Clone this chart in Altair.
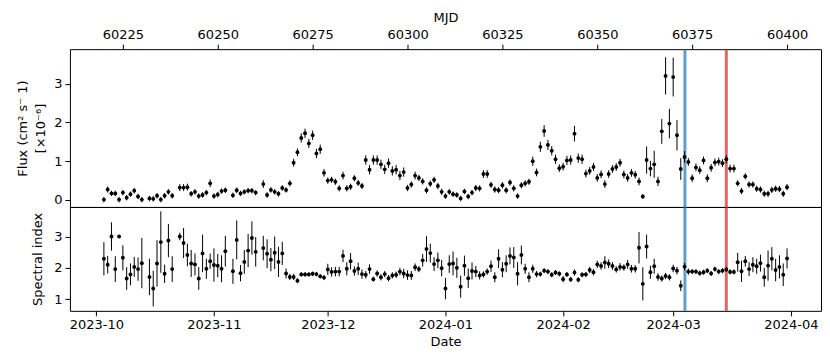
import altair as alt
import pandas as pd

# ---------------- data ----------------
mjd = [60220, 60221, 60222, 60223, 60224, 60225, 60226, 60227, 60228, 60229, 60230,
       60232, 60233, 60234, 60235, 60236, 60237, 60238,
       60240, 60241, 60242, 60243, 60244, 60245, 60246, 60247, 60248, 60249, 60250, 60251, 60252,
       60254, 60255, 60256, 60257, 60258, 60259, 60260,
       60262, 60263, 60264, 60265, 60266, 60267, 60268, 60269, 60270, 60271,
       60272, 60273, 60274, 60275, 60276, 60277, 60278, 60279, 60280, 60281,
       60282, 60283, 60284, 60285, 60286, 60287, 60288, 60289, 60290, 60291,
       60292, 60293, 60294, 60295, 60296, 60297, 60298, 60299, 60300, 60301,
       60302, 60303, 60304, 60305, 60306, 60307, 60308, 60309, 60310, 60311,
       60312, 60313, 60314, 60315, 60316, 60317, 60318, 60319, 60320, 60321,
       60322, 60323, 60324, 60325, 60326, 60327, 60328, 60329, 60330, 60331,
       60332, 60333, 60334, 60335, 60336, 60337, 60338, 60339, 60340, 60341,
       60342, 60343, 60344, 60345, 60346, 60347, 60348, 60349, 60350, 60351,
       60352, 60353, 60354, 60355, 60356, 60357, 60358, 60359, 60360, 60361,
       60362, 60363, 60364, 60365, 60366, 60367, 60368, 60369, 60370, 60371,
       60372, 60373, 60374, 60375, 60376, 60377, 60378, 60379, 60380, 60381,
       60382, 60383, 60384, 60385, 60386, 60387, 60388, 60389, 60390, 60391,
       60392, 60393, 60394, 60395, 60396, 60397, 60398, 60399, 60400]

flux = [0.01, 0.27, 0.17, 0.17, 0.01, 0.19, 0.06, 0.15, 0.24, 0.09, 0.01,
        0.04, 0.03, 0.11, 0.01, 0.11, 0.21, 0.11,
        0.32, 0.32, 0.33, 0.16, 0.21, 0.10, 0.13, 0.19, 0.43, 0.10, 0.14, 0.23, 0.25,
        0.12, 0.25, 0.17, 0.21, 0.24, 0.24, 0.19,
        0.41, 0.13, 0.26, 0.21, 0.16, 0.31, 0.26, 0.43, 0.96, 1.23,
        1.60, 1.72, 1.46, 1.67, 1.20, 1.31, 0.70, 0.50, 0.52, 0.47,
        0.30, 0.63, 0.30, 0.34, 0.56, 0.44, 0.36, 1.03, 0.78, 1.03,
        1.03, 0.92, 0.79, 0.95, 0.75, 0.78, 0.63, 0.72, 0.31, 0.40,
        0.63, 0.57, 0.48, 0.25, 0.42, 0.52, 0.36, 0.21, 0.10, 0.21,
        0.15, 0.13, 0.04, 0.22, 0.09, 0.19, 0.31, 0.30, 0.67, 0.67,
        0.39, 0.27, 0.25, 0.38, 0.25, 0.45, 0.30, 0.10, 0.38, 0.43,
        0.47, 1.00, 0.71, 1.37, 1.78, 1.42, 1.27, 1.05, 0.82, 0.86,
        1.02, 1.03, 1.71, 1.08, 1.05, 0.68, 0.75, 0.85, 0.57, 0.66,
        0.41, 0.67, 0.80, 0.85, 0.96, 0.66, 0.57, 0.70, 0.65, 0.48,
        0.09, 1.03, 0.81, 0.92, 0.48, 1.77, 3.20, 1.97, 3.17, 1.67,
        0.80, 1.11, 0.98, 0.56, 0.84, 0.77, 1.02, 0.56, 0.83, 0.97,
        0.99, 0.95, 1.05, 0.81, 0.81, 0.43, 0.23, 0.61, 0.40, 0.40,
        0.29, 0.27, 0.16, 0.16, 0.26, 0.29, 0.28, 0.16, 0.33]

flux_err = [0.07, 0.08, 0.07, 0.07, 0.07, 0.07, 0.07, 0.07, 0.07, 0.07, 0.07,
            0.07, 0.07, 0.07, 0.07, 0.07, 0.07, 0.07,
            0.09, 0.09, 0.09, 0.07, 0.07, 0.07, 0.07, 0.07, 0.10, 0.07, 0.07, 0.07, 0.07,
            0.07, 0.07, 0.07, 0.07, 0.07, 0.07, 0.07,
            0.10, 0.07, 0.07, 0.07, 0.07, 0.07, 0.07, 0.08, 0.10, 0.10,
            0.12, 0.12, 0.12, 0.12, 0.12, 0.12, 0.10, 0.08, 0.08, 0.08,
            0.08, 0.10, 0.08, 0.08, 0.08, 0.08, 0.08, 0.12, 0.12, 0.12,
            0.12, 0.12, 0.12, 0.12, 0.12, 0.12, 0.12, 0.12, 0.08, 0.08,
            0.10, 0.08, 0.08, 0.08, 0.08, 0.08, 0.08, 0.08, 0.07, 0.07,
            0.07, 0.07, 0.07, 0.07, 0.07, 0.07, 0.08, 0.08, 0.10, 0.10,
            0.08, 0.08, 0.08, 0.08, 0.08, 0.08, 0.08, 0.07, 0.08, 0.08,
            0.08, 0.12, 0.10, 0.13, 0.15, 0.13, 0.12, 0.12, 0.10, 0.10,
            0.12, 0.12, 0.20, 0.12, 0.12, 0.10, 0.10, 0.10, 0.10, 0.10,
            0.10, 0.10, 0.10, 0.10, 0.10, 0.10, 0.10, 0.10, 0.10, 0.10,
            0.06, 0.35, 0.20, 0.35, 0.12, 0.32, 0.48, 0.38, 0.50, 0.39,
            0.28, 0.15, 0.10, 0.10, 0.10, 0.10, 0.10, 0.10, 0.10, 0.10,
            0.10, 0.10, 0.10, 0.10, 0.10, 0.08, 0.08, 0.08, 0.08, 0.08,
            0.08, 0.08, 0.08, 0.08, 0.08, 0.08, 0.08, 0.08, 0.08]

index = [2.29, 2.10, 3.00, 1.96, 3.00, 2.32, 1.66, 1.79, 2.03, 1.96, 2.15,
         1.71, 1.34, 2.14, 2.82, 1.81, 2.87, 1.96,
         3.00, 2.79, 2.41, 2.14, 2.11, 1.66, 2.46, 1.97, 2.21, 2.09, 2.07, 1.97, 2.53,
         1.89, 2.89, 1.83, 2.19, 2.55, 2.95, 2.51,
         2.63, 2.45, 2.26, 2.48, 2.19, 2.46, 1.82, 1.71, 1.71, 1.59,
         1.79, 1.79, 1.79, 1.81, 1.80, 1.73, 1.69, 1.95, 1.87, 1.88,
         1.88, 2.38, 1.97, 2.21, 1.90, 1.97, 1.80, 1.78, 1.96, 1.64,
         1.82, 1.70, 1.80, 1.67, 1.76, 1.78, 1.88, 1.82, 1.77, 1.76,
         2.02, 1.96, 2.24, 2.60, 2.47, 2.12, 2.24, 1.99, 1.34, 2.12,
         2.14, 2.00, 1.40, 2.07, 1.67, 1.90, 1.88, 1.76, 1.79, 1.88,
         2.05, 1.70, 2.29, 1.94, 2.13, 2.38, 2.33, 1.81, 2.41, 1.97,
         1.70, 1.97, 1.80, 1.80, 1.91, 1.88, 1.78, 1.85, 1.81, 1.64,
         1.79, 1.63, 1.85, 1.62, 1.78, 1.79, 1.93, 1.86, 2.11, 2.06,
         2.17, 2.13, 2.06, 1.95, 2.03, 2.01, 2.11, 1.97, 1.97, 2.64,
         1.49, 2.68, 1.86, 2.05, 1.71, 1.66, 1.74, 1.70, 1.98, 1.91,
         1.43, 2.04, 1.88, 1.88, 1.88, 1.83, 1.86, 1.91, 1.82, 1.96,
         1.88, 1.91, 1.95, 1.87, 1.87, 2.18, 1.89, 2.21, 1.96, 2.10,
         2.05, 2.15, 1.70, 2.07, 2.29, 1.93, 2.03, 1.78, 2.30]

index_err = [0.53, 0.28, 0.45, 0.41, 0.03, 0.40, 0.36, 0.35, 0.32, 0.37, 0.80,
             0.58, 0.57, 0.74, 0.98, 0.29, 0.53, 0.41,
             0.12, 0.48, 0.36, 0.43, 0.35, 0.36, 0.60, 0.32, 0.24, 0.53, 0.37, 0.43, 0.49,
             0.40, 0.62, 0.26, 0.38, 0.53, 0.53, 0.47,
             0.39, 0.46, 0.37, 0.52, 0.48, 0.37, 0.16, 0.10, 0.10, 0.08,
             0.07, 0.07, 0.07, 0.07, 0.07, 0.07, 0.08, 0.18, 0.15, 0.15,
             0.15, 0.20, 0.21, 0.26, 0.15, 0.20, 0.15, 0.12, 0.15, 0.08,
             0.10, 0.10, 0.10, 0.10, 0.10, 0.10, 0.12, 0.15, 0.15, 0.14,
             0.12, 0.10, 0.20, 0.41, 0.30, 0.22, 0.25, 0.26, 0.34, 0.28,
             0.38, 0.32, 0.35, 0.32, 0.31, 0.27, 0.18, 0.13, 0.10, 0.10,
             0.18, 0.16, 0.30, 0.24, 0.27, 0.27, 0.33, 0.37, 0.30, 0.16,
             0.16, 0.13, 0.10, 0.08, 0.08, 0.08, 0.08, 0.08, 0.08, 0.10,
             0.08, 0.08, 0.10, 0.08, 0.08, 0.08, 0.10, 0.10, 0.12, 0.12,
             0.20, 0.14, 0.12, 0.10, 0.12, 0.10, 0.14, 0.12, 0.12, 0.50,
             0.53, 0.38, 0.21, 0.24, 0.12, 0.10, 0.10, 0.10, 0.12, 0.12,
             0.17, 0.12, 0.10, 0.08, 0.08, 0.08, 0.08, 0.08, 0.08, 0.08,
             0.08, 0.08, 0.08, 0.08, 0.08, 0.30, 0.34, 0.17, 0.22, 0.24,
             0.24, 0.27, 0.30, 0.48, 0.37, 0.36, 0.37, 0.36, 0.32]

mjd_ticks = [60225, 60250, 60275, 60300, 60325, 60350, 60375, 60400]
date_ticks = [60218, 60249, 60279, 60310, 60341, 60370, 60401]
date_labels = ["2023-10", "2023-11", "2023-12", "2024-01", "2024-02", "2024-03", "2024-04"]

marker_mjd = [60373.1, 60384.0]
marker_color = ["#1f77b4", "#d62728"]

# ---------------- tables ----------------
df = pd.DataFrame({"mjd": mjd, "flux": flux, "flux_err": flux_err,
                   "index": index, "index_err": index_err})
df["flux_lo"] = df["flux"] - df["flux_err"]
df["flux_hi"] = df["flux"] + df["flux_err"]
df["index_lo"] = df["index"] - df["index_err"]
df["index_hi"] = df["index"] + df["index_err"]
marks_df = pd.DataFrame({"mjd": marker_mjd, "color": marker_color})

W = 752
xscale = alt.Scale(domain=[60211.05, 60408.95], nice=False, zero=False)
label_expr = " : ".join(f"datum.value == {v} ? '{l}'" for v, l in zip(date_ticks, date_labels)) + " : ''"

common_axis = dict(labelFont="DejaVu Sans", titleFont="DejaVu Sans", labelFontSize=13,
                   titleFontSize=13, labelColor="black", titleColor="black",
                   tickColor="black", tickSize=5, tickWidth=1, domain=False,
                   grid=False, titleFontWeight="normal", labelPadding=3)

x_top_axis = alt.Axis(orient="top", title="MJD", values=mjd_ticks, format="d",
                      titlePadding=4, **common_axis)
x_bot_axis = alt.Axis(orient="bottom", title="Date", values=date_ticks,
                      labelExpr=label_expr, titlePadding=4, **common_axis)
y_top_axis = alt.Axis(title=["Flux (cm² s⁻ 1)", "[×10⁻⁶]"], values=[0, 1, 2, 3],
                      titlePadding=6, titleLineHeight=18, **common_axis)
y_bot_axis = alt.Axis(title="Spectral index", values=[1, 2, 3],
                      titlePadding=9, **common_axis)

base = alt.Chart(df)

# ---------- top panel ----------
fscale = alt.Scale(domain=[-0.18, 3.89], nice=False, zero=False)
vlines_top = alt.Chart(marks_df).mark_rule(strokeWidth=3, opacity=0.7).encode(
    x=alt.X("mjd:Q", scale=xscale, axis=x_top_axis),
    color=alt.Color("color:N", scale=None))
ebar_top = base.mark_rule(strokeWidth=1, color="black").encode(
    x=alt.X("mjd:Q", scale=xscale, axis=x_top_axis),
    y=alt.Y("flux_lo:Q", scale=fscale, axis=y_top_axis),
    y2="flux_hi:Q")
pts_top = base.mark_circle(size=15, color="black", opacity=1).encode(
    x=alt.X("mjd:Q", scale=xscale, axis=x_top_axis),
    y=alt.Y("flux:Q", scale=fscale, axis=y_top_axis))
top = alt.layer(vlines_top, ebar_top, pts_top).properties(width=W, height=158)

# ---------- bottom panel ----------
iscale = alt.Scale(domain=[0.63, 3.94], nice=False, zero=False)
vlines_bot = alt.Chart(marks_df).mark_rule(strokeWidth=3, opacity=0.7).encode(
    x=alt.X("mjd:Q", scale=xscale, axis=x_bot_axis),
    color=alt.Color("color:N", scale=None))
ebar_bot = base.mark_rule(strokeWidth=1, color="black").encode(
    x=alt.X("mjd:Q", scale=xscale, axis=x_bot_axis),
    y=alt.Y("index_lo:Q", scale=iscale, axis=y_bot_axis),
    y2="index_hi:Q")
pts_bot = base.mark_circle(size=15, color="black", opacity=1).encode(
    x=alt.X("mjd:Q", scale=xscale, axis=x_bot_axis),
    y=alt.Y("index:Q", scale=iscale, axis=y_bot_axis))
bottom = alt.layer(vlines_bot, ebar_bot, pts_bot).properties(width=W, height=104)

chart = alt.vconcat(top, bottom, spacing=0, bounds="flush").resolve_scale(
    x="independent", y="independent"
).properties(
    padding={"left": 8, "top": 2, "right": 0, "bottom": 0},
    background="white"
).configure_view(
    stroke="black", strokeWidth=1
)

chart.save("out.html", embed_options={"renderer": "svg", "actions": False})
